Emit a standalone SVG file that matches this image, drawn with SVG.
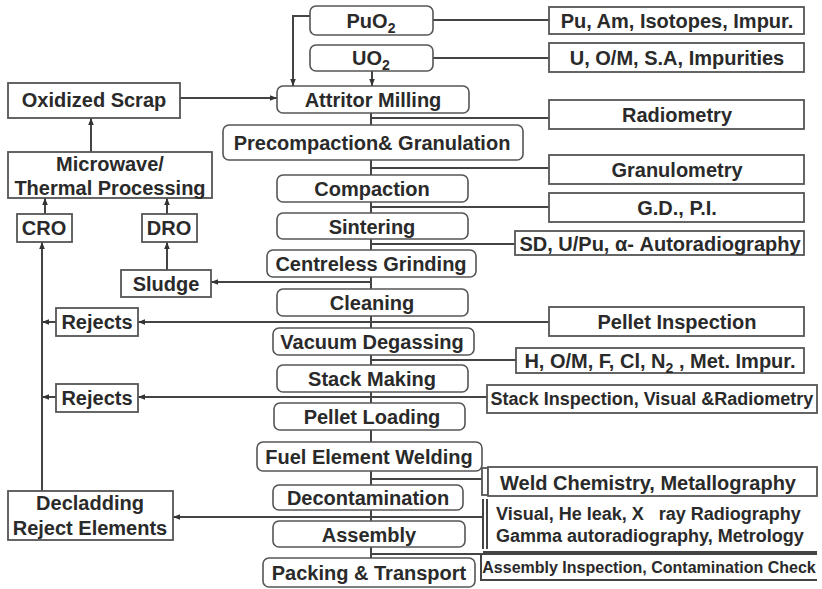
<svg xmlns="http://www.w3.org/2000/svg" width="822" height="589" viewBox="0 0 822 589">
<defs>
<marker id="ah" viewBox="0 0 10 10" refX="10" refY="5" markerWidth="7" markerHeight="7" markerUnits="userSpaceOnUse" orient="auto">
<path d="M0,1 L10,5 L0,9 z" fill="#333"/>
</marker>
<style>
.bx{fill:#fff;stroke:#555;stroke-width:1.6}
.sq{fill:#fff;stroke:#555;stroke-width:1.8}
.ln{fill:none;stroke:#444;stroke-width:2}
.ar{fill:none;stroke:#444;stroke-width:2;marker-end:url(#ah)}
text{font-family:"Liberation Sans",Arial,sans-serif;font-weight:bold;fill:#2a2a2a;text-anchor:middle}
.t20{font-size:20px}
.t18{font-size:18px}
.t16{font-size:16px}
.lft{text-anchor:start}
</style>
</defs>
<rect width="822" height="589" fill="#fff"/>
<g id="connectors">
<path class="ln" d="M371,113 V558"/>
<path class="ar" d="M310,16 H293 V86"/>
<path class="ar" d="M372,71 V86"/>
<path class="ar" d="M180,98 H277"/>
<path class="ar" d="M91,152 V118"/>
<path class="ar" d="M45,214 V198"/>
<path class="ar" d="M167,214 V198"/>
<path class="ar" d="M167,270 V242"/>
<path class="ar" d="M371,282 H211"/>
<path class="ar" d="M549,322 H138"/>
<path class="ar" d="M56,322 H42"/>
<path class="ar" d="M487,397 H138"/>
<path class="ar" d="M56,397 H42"/>
<path class="ar" d="M42,491 V242"/>
<path class="ar" d="M483,517 H173"/>
<path class="ln" d="M433,20 H549"/>
<path class="ln" d="M433,58 H549"/>
<path class="ln" d="M371,118 H549"/>
<path class="ln" d="M371,168 H549"/>
<path class="ln" d="M371,207 H549"/>
<path class="ln" d="M371,244 H515"/>
<path class="ln" d="M371,360 H516"/>
<path class="ln" d="M371,479 H482"/>
<path class="ln" d="M371,554 H481"/>
</g>
<g id="puo2"><rect class="bx" x="310" y="6" width="123" height="29" rx="6"/><text class="t20" x="371" y="28">PuO<tspan font-size="14" dy="5">2</tspan></text></g>
<g id="uo2"><rect class="bx" x="310" y="45" width="123" height="26" rx="6"/><text class="t20" x="371" y="65">UO<tspan font-size="14" dy="5">2</tspan></text></g>
<g id="attritor"><rect class="bx" x="277" y="86" width="192" height="27" rx="6"/><text class="t20" x="373" y="107">Attritor Milling</text></g>
<g id="precompaction"><rect class="bx" x="223" y="125" width="300" height="35" rx="6"/><text class="t20" x="372" y="150">Precompaction&amp; Granulation</text></g>
<g id="compaction"><rect class="bx" x="277" y="175" width="191" height="27" rx="6"/><text class="t20" x="372" y="196">Compaction</text></g>
<g id="sintering"><rect class="bx" x="277" y="213" width="191" height="26" rx="6"/><text class="t20" x="372" y="234">Sintering</text></g>
<g id="grinding"><rect class="bx" x="267" y="250" width="209" height="27" rx="6"/><text class="t20" x="371" y="271">Centreless Grinding</text></g>
<g id="cleaning"><rect class="bx" x="277" y="289" width="191" height="27" rx="6"/><text class="t20" x="372" y="310">Cleaning</text></g>
<g id="degassing"><rect class="bx" x="273" y="328" width="201" height="27" rx="6"/><text class="t20" x="372" y="349">Vacuum Degassing</text></g>
<g id="stack"><rect class="bx" x="277" y="365" width="191" height="27" rx="6"/><text class="t20" x="372" y="386">Stack Making</text></g>
<g id="loading"><rect class="bx" x="274" y="403" width="191" height="27" rx="6"/><text class="t20" x="372" y="424">Pellet Loading</text></g>
<g id="welding"><rect class="bx" x="257" y="442" width="225" height="29" rx="6"/><text class="t20" x="369" y="464">Fuel Element Welding</text></g>
<g id="decontamination"><rect class="bx" x="273" y="485" width="190" height="25" rx="6"/><text class="t20" x="368" y="505">Decontamination</text></g>
<g id="assembly"><rect class="bx" x="273" y="521" width="192" height="26" rx="6"/><text class="t20" x="369" y="542">Assembly</text></g>
<g id="packing"><rect class="bx" x="263" y="558" width="212" height="29" rx="6"/><text class="t20" x="369" y="580">Packing &amp; Transport</text></g>
<g id="a-pu"><rect class="sq" x="549" y="7" width="255" height="27"/><text class="t20" x="677" y="28">Pu, Am, Isotopes, Impur.</text></g>
<g id="a-u"><rect class="sq" x="549" y="43" width="255" height="29"/><text class="t20" x="677" y="65">U, O/M, S.A, Impurities</text></g>
<g id="a-radiometry"><rect class="sq" x="549" y="100" width="255" height="29"/><text class="t20" x="677" y="122">Radiometry</text></g>
<g id="a-granulometry"><rect class="sq" x="549" y="155" width="255" height="29"/><text class="t20" x="677" y="177">Granulometry</text></g>
<g id="a-gd"><rect class="sq" x="549" y="193" width="255" height="29"/><text class="t20" x="677" y="215">G.D., P.I.</text></g>
<g id="a-sd"><rect class="sq" x="515" y="231" width="289" height="24"/><text class="t20" x="660" y="251">SD, U/Pu, α- Autoradiography</text></g>
<g id="a-pellet"><rect class="sq" x="549" y="307" width="255" height="29"/><text class="t20" x="677" y="329">Pellet Inspection</text></g>
<g id="a-h"><rect class="sq" x="516" y="348" width="288" height="25"/><text class="t20" x="660" y="368">H, O/M, F, Cl, N<tspan font-size="14" dy="5">2</tspan><tspan dy="-5"> , Met. Impur.</tspan></text></g>
<g id="a-stack"><rect class="sq" x="487" y="385" width="330" height="28"/><text class="t18" x="652" y="405">Stack Inspection, Visual &amp;Radiometry</text></g>
<g id="a-weld"><rect class="sq" x="482" y="468" width="6" height="27"/><rect class="sq" x="488" y="467" width="329" height="29"/><text class="t20" x="648" y="490">Weld Chemistry, Metallography</text></g>
<g id="a-visual"><path class="ln" d="M483,499 V549 M487,499 V549 M483,552 H817"/><text class="t18 lft" x="496" y="520">Visual, He leak, X&#160;&#160;&#160;ray Radiography</text><text class="t18 lft" x="496" y="542">Gamma autoradiography, Metrology</text></g>
<g id="a-assembly"><path class="ln" d="M817,554 H481 V580 H817"/><text class="t16" x="649" y="573">Assembly Inspection, Contamination Check</text></g>
<g id="oxidized"><rect class="sq" x="8" y="83" width="172" height="35"/><text class="t20" x="94" y="107">Oxidized Scrap</text></g>
<g id="microwave"><rect class="sq" x="8" y="152" width="204" height="46"/><text class="t20" x="110" y="171">Microwave/</text><text class="t20" x="110" y="195">Thermal Processing</text></g>
<g id="cro"><rect class="sq" x="17" y="214" width="55" height="28"/><text class="t20" x="44" y="235">CRO</text></g>
<g id="dro"><rect class="sq" x="142" y="214" width="55" height="28"/><text class="t20" x="169" y="235">DRO</text></g>
<g id="sludge"><rect class="sq" x="121" y="270" width="90" height="27"/><text class="t20" x="166" y="291">Sludge</text></g>
<g id="rejects1"><rect class="sq" x="56" y="308" width="82" height="28"/><text class="t20" x="97" y="329">Rejects</text></g>
<g id="rejects2"><rect class="sq" x="56" y="384" width="82" height="28"/><text class="t20" x="97" y="405">Rejects</text></g>
<g id="decladding"><rect class="sq" x="8" y="491" width="165" height="49"/><text class="t20" x="90" y="510">Decladding</text><text class="t20" x="90" y="535">Reject Elements</text></g>
</svg>
